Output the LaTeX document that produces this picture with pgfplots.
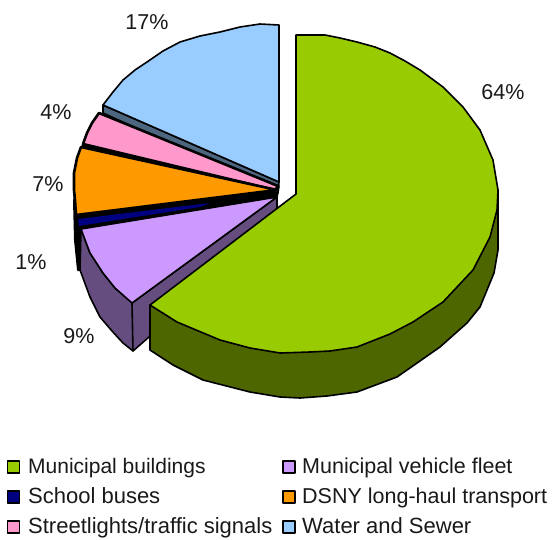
\documentclass[border=0pt]{standalone}
\usepackage{pgfplots}
\pgfplotsset{compat=1.18}
\usepackage{fontspec}
\setmainfont{Liberation Sans}
\definecolor{cgreen}{HTML}{99CC00}
\definecolor{cgreend}{HTML}{4D6600}
\definecolor{cpurple}{HTML}{CC99FF}
\definecolor{cpurpled}{HTML}{664D80}
\definecolor{cnavy}{HTML}{000080}
\definecolor{corange}{HTML}{FF9900}
\definecolor{cpink}{HTML}{FF99CC}
\definecolor{cblue}{HTML}{99CCFF}
\definecolor{cblued}{HTML}{4D6680}
\begin{document}
\begin{tikzpicture}[x=1pt,y=1pt]
\path (0,0) rectangle (557pt,539pt);
\begin{axis}[
  scale only axis, width=557pt, height=539pt,
  xmin=0, xmax=557, ymin=0, ymax=539, y dir=reverse,
  hide axis, clip=false, anchor=south west, at={(0,0)},
  every axis plot/.append style={line join=round, line cap=round},
]
% black backing for the dark side at the left and the thick dividers
\addplot[draw=black, line width=2pt, fill=black] coordinates {(74,200)(75,240)(78,270)(84,270)(84,205)} -- cycle;
\addplot[draw=black, line width=1.5pt, fill=black] coordinates {(99,113)(92,123)(87,133)(83,144)(77,158)(74,173)(74,190)(75,215)(78,230)(277,198)(279,186)} -- cycle;
% Water and Sewer
\addplot[draw=black, line width=1.6pt, fill=cblued] coordinates {(103,105)(103,113)(278,193)(279,182)} -- cycle;
\addplot[draw=black, line width=1.6pt, fill=cblue] coordinates {(279,25)(260,24)(240,27)(220,32)(200,36)(180,42)(163,51)(147,62)(135,70)(123,80)(113,92)(103,105)(279,182)} -- cycle;
% Streetlights
\addplot[draw=black, line width=2.6pt, fill=cpink] coordinates {(99,113)(92,123)(87,133)(83,144)(275,190)(278,186)} -- cycle;
% DSNY
\addplot[draw=black, line width=2.6pt, fill=corange] coordinates {(81,147)(77,158)(74,173)(74,190)(75,200)(76,215)(277,190)} -- cycle;
% School buses
\addplot[draw=none, fill=cnavy] coordinates {(78,219)(79,226)(200,207)(210,203)} -- cycle;
% Municipal vehicle fleet
\addplot[draw=black, line width=1.6pt, fill=cpurpled] coordinates {(81,229)(80,270)(90,297)(100,317)(112,331)(123,343)(133,351)(133,303)(115,288)(103,273)(90,253)} -- cycle;
\addplot[draw=black, line width=1.6pt, fill=cpurpled] coordinates {(132,303)(277,197)(277,225)(133,351)} -- cycle;
\addplot[draw=black, line width=1.6pt, fill=cpurple] coordinates {(81,229)(90,253)(103,273)(115,288)(132,303)(277,197)} -- cycle;
% Municipal buildings
\addplot[draw=black, line width=1.6pt, fill=cgreend] coordinates {(150,305)(150,350)(173,365)(203,380)(250,392)(280,397)(300,398)(327,396)(357,392)(397,377)(440,347)(467,323)(480,307)(494,273)(498,250)(498,190)} -- cycle;
\addplot[draw=black, line width=1.6pt, fill=cgreen] coordinates {(296,35)(325,35)(340,38)(357,42)(375,47)(390,53)(405,61)(420,70)(443,87)(463,107)(480,130)(493,160)(498,190)(497,210)(490,237)(473,270)(443,302)(413,322)(390,334)(357,347)(330,351)(310,352)(280,353)(250,348)(220,340)(177,322)(150,305)(296,194)} -- cycle;
% Legend keys
\addplot[only marks, mark=square*, mark size=6pt, mark options={fill=cgreen, draw=black, line width=1.4pt}] coordinates {(13.5,467)};
\addplot[only marks, mark=square*, mark size=6pt, mark options={fill=cpurple, draw=black, line width=1.4pt}] coordinates {(289,467)};
\addplot[only marks, mark=square*, mark size=6pt, mark options={fill=cnavy, draw=black, line width=1.4pt}] coordinates {(13.5,497)};
\addplot[only marks, mark=square*, mark size=6pt, mark options={fill=corange, draw=black, line width=1.4pt}] coordinates {(289,497)};
\addplot[only marks, mark=square*, mark size=6pt, mark options={fill=cpink, draw=black, line width=1.4pt}] coordinates {(13.5,527)};
\addplot[only marks, mark=square*, mark size=6pt, mark options={fill=cblue, draw=black, line width=1.4pt}] coordinates {(289,527)};
% Labels
\tikzset{lab/.style={font=\fontsize{21.5pt}{23pt}\selectfont, inner sep=0pt, text=black!90}}
\node[lab] at (axis cs:147,22) {17\%};
\node[lab] at (axis cs:503,92) {64\%};
\node[lab] at (axis cs:56,112) {4\%};
\node[lab] at (axis cs:48,184) {7\%};
\node[lab] at (axis cs:31,262) {1\%};
\node[lab] at (axis cs:79,336) {9\%};
\tikzset{leg/.style={inner sep=0pt, anchor=base west, text=black!90}}
\node[leg, font=\fontsize{21pt}{23pt}\selectfont] at (axis cs:28,473) {Municipal buildings};
\node[leg, font=\fontsize{21.5pt}{23pt}\selectfont] at (axis cs:302,473) {Municipal vehicle fleet};
\node[leg, font=\fontsize{22pt}{23pt}\selectfont] at (axis cs:28,503) {School buses};
\node[leg, font=\fontsize{21.5pt}{23pt}\selectfont] at (axis cs:302,503) {DSNY long-haul transport};
\node[leg, font=\fontsize{22pt}{23pt}\selectfont] at (axis cs:28,533) {Streetlights/traffic signals};
\node[leg, font=\fontsize{22pt}{23pt}\selectfont] at (axis cs:302,533) {Water and Sewer};
\end{axis}
\end{tikzpicture}
\end{document}
